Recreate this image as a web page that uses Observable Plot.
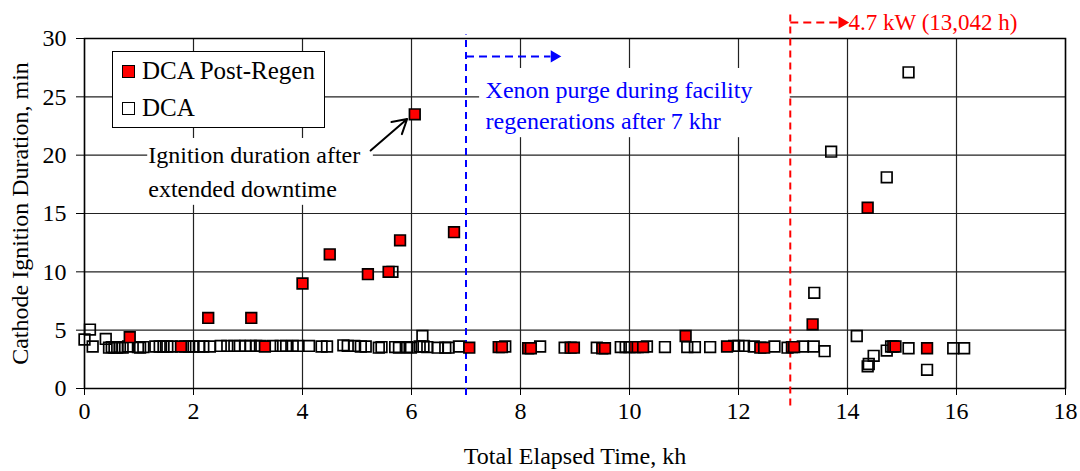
<!DOCTYPE html>
<html>
<head>
<meta charset="utf-8">
<script src="https://cdn.jsdelivr.net/npm/d3@7"></script>
<script src="https://cdn.jsdelivr.net/npm/@observablehq/plot@0.6"></script>
<style>
  body { margin: 0; background: white; }
  #wrap { position: relative; width: 1080px; height: 471px; font-family: "Liberation Serif", "Times New Roman", serif; }
  #legend { position: absolute; left: 112px; top: 51px; width: 211px; height: 75px; background: white; border: 1.5px solid black; font-size: 25px; }
  .row { position: absolute; left: 9px; display: flex; align-items: center; }
  .sw { width: 11px; height: 11px; border: 1.6px solid black; margin-right: 7px; }
</style>
</head>
<body>
<div id="wrap">
  <div id="chart"></div>
  <div id="legend">
    <div class="row" style="top:5px"><div class="sw" style="background:#ff0000"></div><span>DCA Post-Regen</span></div>
    <div class="row" style="top:42px"><div class="sw" style="background:white"></div><span>DCA</span></div>
  </div>
</div>
<script>
// Tick values
const xTicks = [0, 2, 4, 6, 8, 10, 12, 14, 16, 18];
const yTicks = [0, 5, 10, 15, 20, 25, 30];

// DCA (open squares): [elapsed kh, ignition min]
const dcaX = [0.0,0.1,0.15,0.39,0.45,0.5,0.55,0.6,0.65,0.7,0.8,0.98,1.02,1.08,1.3,1.38,1.45,1.52,1.6,1.85,1.92,2.0,2.1,2.18,2.3,2.5,2.62,2.75,2.85,2.95,3.05,3.15,3.22,3.45,3.6,3.7,3.82,3.92,4.12,4.35,4.45,4.75,4.83,4.95,5.07,5.16,5.4,5.45,5.65,5.7,5.77,5.92,5.99,6.15,6.2,6.22,6.29,6.48,6.62,6.68,6.87,
  7.72,8.36,8.81,9.40,9.84,9.93,10.0,10.32,10.65,11.06,11.2,11.48,11.92,12.0,12.1,12.28,12.66,12.9,13.18,13.38,13.58,13.39,13.7,14.17,14.37,14.39,14.48,14.72,14.72,14.8,15.12,15.12,15.46,15.94,16.14];
const dcaY = [4.2,5.05,3.6,4.25,3.5,3.55,3.5,3.5,3.55,3.5,3.6,3.55,3.5,3.55,3.6,3.6,3.6,3.6,3.6,3.6,3.6,3.6,3.6,3.6,3.6,3.65,3.65,3.65,3.65,3.65,3.65,3.65,3.65,3.65,3.65,3.65,3.65,3.65,3.65,3.6,3.6,3.7,3.65,3.65,3.6,3.6,3.5,3.55,10.0,3.55,3.5,3.55,3.5,3.6,4.5,3.6,3.55,3.5,3.5,3.5,3.6,
  3.6,3.6,3.5,3.5,3.55,3.55,3.55,3.6,3.55,3.55,3.55,3.55,3.65,3.65,3.65,3.6,3.6,3.5,3.6,3.6,3.2,8.2,20.3,4.5,1.9,2.1,2.8,3.25,18.1,3.6,3.45,27.1,1.6,3.45,3.45];

// DCA Post-Regen (red squares)
const regenX = [0.83,1.77,2.27,3.06,3.31,4.0,4.5,5.2,5.58,5.79,6.06,6.78,7.06,7.6,7.66,8.14,8.19,8.92,8.98,9.5,9.55,10.1,10.15,10.25,11.03,11.79,12.4,12.47,12.98,13.02,13.36,14.37,14.84,14.88,15.46];
const regenY = [4.4,3.6,6.05,6.05,3.6,9.0,11.5,9.8,10.0,12.7,23.5,13.4,3.5,3.55,3.55,3.45,3.45,3.5,3.5,3.45,3.45,3.55,3.55,3.55,4.5,3.6,3.5,3.5,3.55,3.55,5.5,15.5,3.6,3.6,3.45];

// Labels
const xLabel = "Total Elapsed Time, kh";
const yLabel = "Cathode Ignition Duration, min";
const noteDowntime = ["Ignition duration after", "extended downtime"];
const notePurge = ["Xenon purge during facility", "regenerations after 7 khr"];
const notePower = "4.7 kW (13,042 h)";
const purgeStart = 7.0;
const powerStart = 12.95;

const dca = dcaX.map((x, i) => ({x, y: dcaY[i]}));
const regen = regenX.map((x, i) => ({x, y: regenY[i]}));

// annotation anchors (data units)
const boxes = [
  {x1: 1.16, x2: 5.30, y1: 15.7, y2: 21.43},
  {x1: 7.25, x2: 12.95, y1: 21.5, y2: 27.43}
];
const downtimeText = [{x: 1.17, y: 19.95, t: noteDowntime[0]}, {x: 1.17, y: 17.05, t: noteDowntime[1]}];
const purgeText = [{x: 7.36, y: 25.6, t: notePurge[0]}, {x: 7.36, y: 22.9, t: notePurge[1]}];
const vRules = [
  {x: purgeStart, y1: -0.6, y2: 30.3, c: "#0000ff"},
  {x: powerStart, y1: -1.5, y2: 32.4, c: "#ff0000"}
];
const hLinks = [
  {x1: purgeStart, x2: 8.55, y: 28.46, c: "#0000ff"},
  {x1: powerStart, x2: 13.82, y: 31.37, c: "#ff0000"}
];
const heads = [
  {x: 8.62, y: 28.46, c: "#0000ff"},
  {x: 13.9, y: 31.37, c: "#ff0000"}
];

const chart = Plot.plot({
  width: 1080,
  height: 471,
  marginLeft: 84,
  marginRight: 15,
  marginTop: 38,
  marginBottom: 83,
  x: {domain: [0, 18]},
  y: {domain: [0, 30]},
  style: {fontFamily: "Liberation Serif, Times New Roman, serif", fontSize: "24px", background: "white", color: "black", overflow: "visible"},
  marks: [
    Plot.gridX(xTicks, {stroke: "#222", strokeOpacity: 1, strokeWidth: 1.2}),
    Plot.gridY(yTicks, {stroke: "#222", strokeOpacity: 1, strokeWidth: 1.2}),
    Plot.rect(boxes, {x1: "x1", x2: "x2", y1: "y1", y2: "y2", fill: "white"}),
    Plot.frame({stroke: "black", strokeWidth: 1.5}),
    Plot.axisX(xTicks, {tickSize: 7, tickPadding: 6, label: null, fontSize: 24}),
    Plot.axisY(yTicks, {tickSize: 8, tickPadding: 10, label: null, fontSize: 24}),
    Plot.text([xLabel], {frameAnchor: "bottom", dy: 75, text: d => d, fontSize: 24}),
    Plot.text([yLabel], {frameAnchor: "left", dx: -64, rotate: -90, textAnchor: "middle", text: d => d, fontSize: 24}),
    Plot.ruleX(vRules, {x: "x", y1: "y1", y2: "y2", stroke: "c", strokeWidth: 2, strokeDasharray: "7,5"}),
    Plot.link(hLinks, {x1: "x1", x2: "x2", y1: "y", y2: "y", stroke: "c", strokeWidth: 2, strokeDasharray: "8,5"}),
    Plot.dot(heads, {x: "x", y: "y", symbol: "triangle", r: 3.6, fill: "c", stroke: "c", rotate: 90}),
    Plot.text(downtimeText, {x: "x", y: "y", text: "t", textAnchor: "start", fontSize: 24, fill: "black"}),
    Plot.text(purgeText, {x: "x", y: "y", text: "t", textAnchor: "start", fontSize: 24, fill: "#0000ff"}),
    Plot.text([{x: 14.02, y: 31.37, t: notePower}], {x: "x", y: "y", text: "t", textAnchor: "start", fontSize: 23, fill: "#ff0000"}),
    Plot.arrow([{x1: 5.25, y1: 20.4, x2: 5.92, y2: 23.1}], {x1: "x1", y1: "y1", x2: "x2", y2: "y2", stroke: "black", strokeWidth: 2, headLength: 12}),
    Plot.dot(dca, {x: "x", y: "y", symbol: "square", r: 6, fill: "none", stroke: "black", strokeWidth: 1.7}),
    Plot.dot(regen, {x: "x", y: "y", symbol: "square", r: 6, fill: "#ff0000", stroke: "black", strokeWidth: 1.7})
  ]
});
document.getElementById("chart").appendChild(chart);
</script>
</body>
</html>
